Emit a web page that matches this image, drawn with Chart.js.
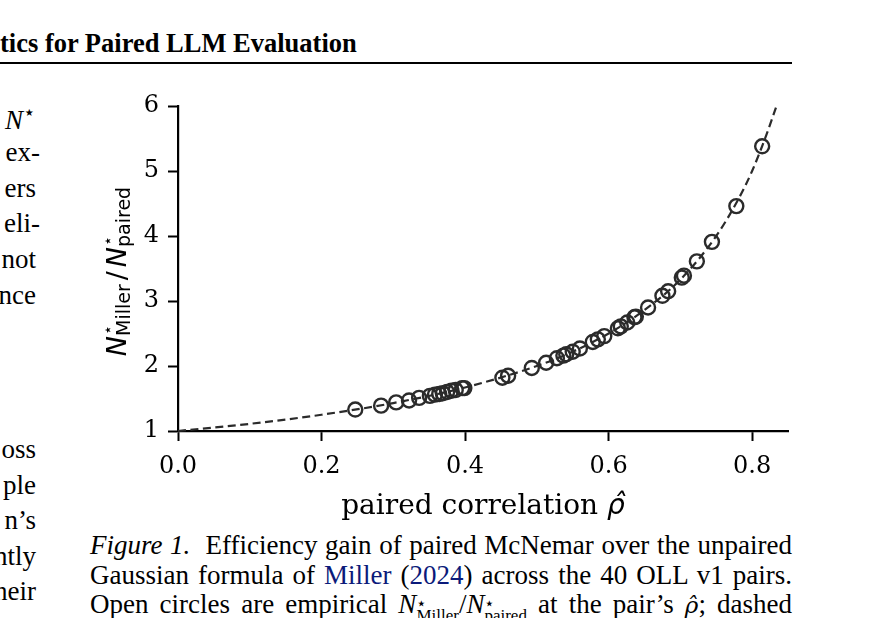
<!DOCTYPE html>
<html>
<head>
<meta charset="utf-8">
<script src="https://cdn.jsdelivr.net/npm/chart.js@4.4.1/dist/chart.umd.min.js"></script>
<style>
  html, body { margin: 0; padding: 0; background: #fff; }
  body { width: 883px; height: 618px; position: relative; overflow: hidden;
         font-family: "Liberation Serif", "Times New Roman", serif; color: #000; }
  .t { position: absolute; white-space: nowrap; line-height: 1; }
  .head { left: 0; top: 30px; font-size: 26.5px; font-weight: bold; }
  .rule { position: absolute; left: 0; top: 62px; width: 792px; height: 2px; background: #000; }
  .col { font-size: 27px; right: 847px; text-align: right; }
  .col.h { right: 843px; }
  .cap { font-size: 27px; left: 90px; width: 702px; text-align: justify; text-align-last: justify; }
  .cite { color: #0b1a7a; }
  .ss { display: inline-block; vertical-align: -8px; line-height: 12px; font-size: 17px; text-align: left; }
  .ss span { display: block; }
  .rho { font-family: "DejaVu Serif", serif; font-style: italic; font-size: 23px; }
  #wrap { position: absolute; left: 0; top: 0; width: 883px; height: 618px; }
</style>
</head>
<body>
<div class="t head">tics for Paired LLM Evaluation</div>
<div class="rule"></div>

<div class="t col" style="top:102px"><i>N</i><sup style="font-size:20px">⋆</sup></div>
<div class="t col h" style="top:139px">ex-</div>
<div class="t col" style="top:175px">ers</div>
<div class="t col h" style="top:210px">eli-</div>
<div class="t col" style="top:246px">not</div>
<div class="t col" style="top:282px">nce</div>

<div class="t col" style="top:436px">oss</div>
<div class="t col" style="top:472px">ple</div>
<div class="t col" style="top:507px">n’s</div>
<div class="t col" style="top:543px">ntly</div>
<div class="t col" style="top:578px">heir</div>

<div class="t cap" style="top:532px"><i>Figure 1.</i>&nbsp; Efficiency gain of paired McNemar over the unpaired</div>
<div class="t cap" style="top:562px">Gaussian formula of <span class="cite">Miller</span> (<span class="cite">2024</span>) across the 40 OLL v1 pairs.</div>
<div class="t cap" style="top:591px">Open circles are empirical <i>N</i><span class="ss"><span>⋆</span><span>Miller</span></span>/<i>N</i><span class="ss"><span>⋆</span><span>paired</span></span> at the pair’s <span class="rho">ρ̂</span>; dashed</div>

<div id="wrap"><canvas id="effChart" width="883" height="618"></canvas></div>

<script>
// empirical pairs: paired correlation and N*_Miller / N*_paired
const rhoHat = [0.247, 0.283, 0.304, 0.322, 0.336, 0.351, 0.358, 0.364, 0.369, 0.375,
                0.381, 0.387, 0.396, 0.399, 0.452, 0.460, 0.493, 0.513, 0.528, 0.537,
                0.541, 0.550, 0.560, 0.578, 0.585, 0.594, 0.613, 0.617, 0.626, 0.636,
                0.638, 0.655, 0.675, 0.683, 0.702, 0.705, 0.723, 0.744, 0.778, 0.814];
const ratio  = [1.33, 1.39, 1.44, 1.47, 1.51, 1.54, 1.56, 1.57, 1.58, 1.60,
                1.62, 1.63, 1.66, 1.66, 1.82, 1.85, 1.97, 2.05, 2.12, 2.16,
                2.18, 2.22, 2.27, 2.37, 2.41, 2.46, 2.58, 2.61, 2.67, 2.75,
                2.76, 2.90, 3.08, 3.15, 3.36, 3.39, 3.61, 3.91, 4.46, 5.38];

// dashed reference curve
const curveRho   = [0, 0.1, 0.2, 0.3, 0.4, 0.5, 0.55, 0.6, 0.65, 0.7, 0.75, 0.78, 0.8, 0.82, 0.834];
const curveRatio = [1, 1.11, 1.25, 1.43, 1.67, 2.0, 2.22, 2.5, 2.86, 3.33, 4.0, 4.55, 5.0, 5.56, 6.0];

const xTickValues = [0, 0.2, 0.4, 0.6, 0.8];
const yTickValues = [1, 2, 3, 4, 5, 6];

const ink = '#2b2b2b';

// axis titles (need sub/superscripts, so drawn by hand)
const axisTitles = {
  id: 'axisTitles',
  afterDraw(chart) {
    const ctx = chart.ctx;
    const area = chart.chartArea;
    ctx.save();
    ctx.fillStyle = '#000';
    ctx.textBaseline = 'alphabetic';

    // x title
    const part1 = 'paired correlation ';
    const part2 = 'ρ̂';
    ctx.font = '28px "DejaVu Serif"';
    const w1 = ctx.measureText(part1).width;
    ctx.font = 'italic 28px "DejaVu Sans"';
    const w2 = ctx.measureText(part2).width;
    let x0 = (area.left + area.right) / 2 - (w1 + w2) / 2;
    ctx.textAlign = 'left';
    ctx.font = '28px "DejaVu Serif"';
    ctx.fillText(part1, x0, 514);
    ctx.font = 'italic 28px "DejaVu Sans"';
    ctx.fillText(part2, x0 + w1, 514);

    // y title, rotated
    const big = 'italic 27px "DejaVu Sans"';
    const slashFont = '27px "DejaVu Sans"';
    const small = '19px "DejaVu Sans"';
    const starFont = '16px "DejaVu Sans"';
    ctx.font = big;
    const wN = ctx.measureText('N').width;
    ctx.font = small;
    const wMil = ctx.measureText('Miller').width;
    const wPai = ctx.measureText('paired').width;
    ctx.font = slashFont;
    const wSl = ctx.measureText('/').width;
    const gap = 4;
    const total = wN + wMil + gap + wSl + gap + wN + wPai;

    ctx.translate(126, (area.top + area.bottom) / 2 + 3);
    ctx.rotate(-Math.PI / 2);
    let x = -total / 2;
    ctx.font = big;
    ctx.fillText('N', x, 0);
    ctx.font = starFont;
    ctx.fillText('⋆', x + wN + 1, -13);
    ctx.font = small;
    ctx.fillText('Miller', x + wN, 4);
    x += wN + wMil + gap;
    ctx.font = slashFont;
    ctx.fillText('/', x, 0);
    x += wSl + gap;
    ctx.font = big;
    ctx.fillText('N', x, 0);
    ctx.font = starFont;
    ctx.fillText('⋆', x + wN + 1, -13);
    ctx.font = small;
    ctx.fillText('paired', x + wN, 4);
    ctx.restore();
  }
};

const ctx = document.getElementById('effChart').getContext('2d');
const effChart = new Chart(ctx, {
  type: 'scatter',
  data: {
    datasets: [
      {
        label: 'curve',
        data: curveRho.map((r, i) => ({ x: r, y: curveRatio[i] })),
        showLine: true,
        borderColor: ink,
        borderWidth: 2.2,
        borderDash: [8, 4.5],
        pointRadius: 0,
        cubicInterpolationMode: 'monotone',
        fill: false,
        clip: false,
        order: 2
      },
      {
        label: 'pairs',
        data: rhoHat.map((r, i) => ({ x: r, y: ratio[i] })),
        pointStyle: 'circle',
        pointRadius: 7,
        pointBorderWidth: 2.4,
        pointBorderColor: ink,
        pointBackgroundColor: 'rgba(0,0,0,0)',
        clip: false,
        order: 1
      }
    ]
  },
  options: {
    responsive: false,
    animation: false,
    layout: {
      padding: { left: 138, top: 106, right: 95, bottom: 127 }
    },
    plugins: {
      legend: { display: false },
      title: { display: false },
      tooltip: { enabled: false }
    },
    scales: {
      x: {
        type: 'linear',
        min: 0,
        max: 0.85,
        afterBuildTicks: (s) => { s.ticks = xTickValues.map(v => ({ value: v })); },
        afterFit: (s) => { s.height = 60; },
        ticks: {
          color: '#000',
          font: { family: 'DejaVu Serif', size: 24 },
          padding: 11,
          maxRotation: 0,
          callback: (v) => Number(v).toFixed(1)
        },
        grid: { drawOnChartArea: false, drawTicks: true, tickLength: 10, tickWidth: 2, tickColor: '#000' },
        border: { display: true, color: '#000', width: 2.2 }
      },
      y: {
        type: 'linear',
        min: 1,
        max: 6,
        afterBuildTicks: (s) => { s.ticks = yTickValues.map(v => ({ value: v })); },
        afterFit: (s) => { s.width = 40; },
        ticks: {
          color: '#000',
          font: { family: 'DejaVu Serif', size: 24 },
          padding: 9,
          callback: (v) => String(v)
        },
        grid: { drawOnChartArea: false, drawTicks: true, tickLength: 10, tickWidth: 2, tickColor: '#000' },
        border: { display: true, color: '#000', width: 2.2 }
      }
    }
  },
  plugins: [axisTitles]
});
</script>
</body>
</html>
